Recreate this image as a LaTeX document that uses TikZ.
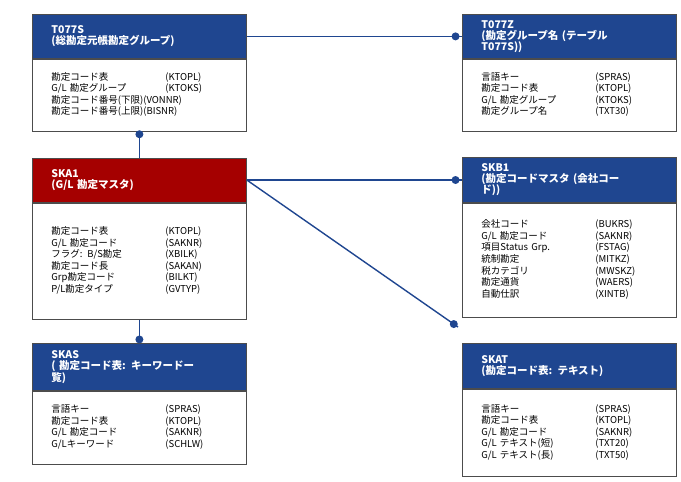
\documentclass[tikz,border=0pt]{standalone}
\usepackage{fontspec}
\setmainfont{Noto Sans CJK JP}
\usetikzlibrary{positioning}
\definecolor{navy}{HTML}{1F4690}
\definecolor{darkred}{HTML}{A50000}
\tikzset{
  head/.style={draw=black!70, fill=navy, text=white, font=\bfseries\fontsize{10.5}{11}\selectfont,
    anchor=north west, minimum width=214pt, text width=200pt, align=left, inner sep=0pt, line width=0.8pt},
  body/.style={draw=black!70, fill=white, anchor=north west, minimum width=214pt, text width=200pt,
    inner sep=0pt, font=\fontsize{9.5}{11.5}\selectfont, line width=0.8pt},
  link/.style={draw=navy, line width=1.4pt},
  dot/.style={circle, fill=navy, inner sep=0pt, minimum size=8pt}
}
\newcommand{\rows}[1]{\begin{tabular}[t]{@{\hspace{12pt}}p{114pt}@{}l@{}}#1\end{tabular}}
\begin{document}
\begin{tikzpicture}[x=1pt,y=-1pt]
\useasboundingbox (0,0) rectangle (681,482);
% headers
\path
(32,14) node[head, minimum height=44pt] (t077s) {\hspace*{12pt}T077S\\\hspace*{12pt}(総勘定元帳勘定グループ)}
(462,14) node[head, minimum height=44pt] (t077z) {\hspace*{12pt}T077Z\\\hspace*{12pt}(勘定グループ名 (テーブル\\\hspace*{12pt}T077S))}
(32,158) node[head, minimum height=44pt, fill=darkred] (ska1) {\hspace*{12pt}SKA1\\\hspace*{12pt}(G/L 勘定マスタ)}
(462,157) node[head, minimum height=45pt] (skb1) {\hspace*{12pt}SKB1\\\hspace*{12pt}(勘定コードマスタ (会社コー\\\hspace*{12pt}ド))}
(32,343) node[head, minimum height=47pt] (skas) {\hspace*{12pt}SKAS\\\hspace*{12pt}( 勘定コード表: キーワードー\\\hspace*{12pt}覧)}
(462,343) node[head, minimum height=45pt] (skat) {\hspace*{12pt}SKAT\\\hspace*{12pt}(勘定コード表: テキスト)};
% bodies
\node[body, minimum height=72pt] (t077s-b) at (t077s.south west) {\rows{勘定コード表 & (KTOPL)\\ G/L 勘定グループ & (KTOKS)\\ 勘定コード番号(下限)(VONNR) & \\ 勘定コード番号(上限)(BISNR) & }};
\node[body, minimum height=72pt] (t077z-b) at (t077z.south west) {\rows{言語キー & (SPRAS)\\ 勘定コード表 & (KTOPL)\\ G/L 勘定グループ & (KTOKS)\\ 勘定グループ名 & (TXT30)}};
\node[body, minimum height=116pt] (ska1-b) at (ska1.south west) {\rows{勘定コード表 & (KTOPL)\\ G/L 勘定コード & (SAKNR)\\ フラグ: B/S勘定 & (XBILK)\\ 勘定コード長 & (SAKAN)\\ Grp勘定コード & (BILKT)\\ P/L勘定タイプ & (GVTYP)}};
\node[body, minimum height=114pt] (skb1-b) at (skb1.south west) {\rows{会社コード & (BUKRS)\\ G/L 勘定コード & (SAKNR)\\ 項目Status Grp. & (FSTAG)\\ 統制勘定 & (MITKZ)\\ 税カテゴリ & (MWSKZ)\\ 勘定通貨 & (WAERS)\\ 自動仕訳 & (XINTB)}};
\node[body, minimum height=73pt] (skas-b) at (skas.south west) {\rows{言語キー & (SPRAS)\\ 勘定コード表 & (KTOPL)\\ G/L 勘定コード & (SAKNR)\\ G/Lキーワード & (SCHLW)}};
\node[body, minimum height=87pt] (skat-b) at (skat.south west) {\rows{言語キー & (SPRAS)\\ 勘定コード表 & (KTOPL)\\ G/L 勘定コード & (SAKNR)\\ G/L テキスト(短) & (TXT20)\\ G/L テキスト(長) & (TXT50)}};
% links
\coordinate (ska1-c) at ([yshift=-22pt]ska1.north east);
\draw[link] (t077s.east) -- (t077z.west) node[dot, pos=0.97] {};
\draw[link] (t077s-b.south) -- (ska1.north) node[dot, pos=0.1] {};
\draw[link] (ska1-c) -- (ska1-c -| skb1.west) node[dot, pos=0.97] {};
\draw[link] (ska1-c) -- ([xshift=-4pt,yshift=16pt]skat.north west) node[dot, pos=0.98] {};
\draw[link] (ska1-b.south) -- (skas.north) node[dot, pos=0.85] {};
\end{tikzpicture}
\end{document}
